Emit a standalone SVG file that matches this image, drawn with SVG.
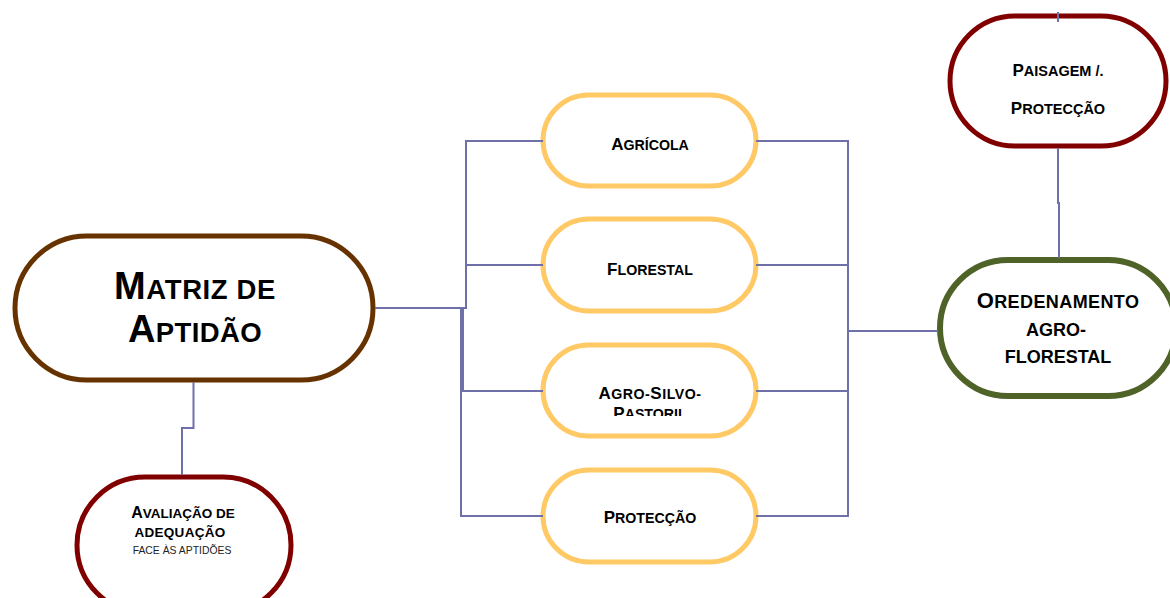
<svg xmlns="http://www.w3.org/2000/svg" width="1170" height="598" viewBox="0 0 1170 598">
  <style>
    .lbl { font-family: "Liberation Sans", Arial, sans-serif; font-weight: bold; fill: #000; text-anchor: middle; }
    .note { font-family: "Liberation Sans", Arial, sans-serif; fill: #222; text-anchor: middle; }
    .pill { fill: #fff; stroke-width: 5; }
    .brown { stroke: #663300; }
    .red { stroke: #800000; }
    .yellow { stroke: #FFC966; }
    .green { stroke: #4F6228; stroke-width: 6; }
    .wire { fill: none; stroke: #7070A8; stroke-width: 2; }
  </style>
  <defs>
    <clipPath id="clipAgroSilvo">
      <rect x="543" y="300" width="213" height="116"/>
    </clipPath>
  </defs>

  <rect width="1170" height="598" fill="#fff"/>

  <!-- nodes -->
  <g id="matriz">
    <rect class="pill brown" x="15" y="236" width="358" height="144" rx="72"/>
    <text class="lbl" x="195" y="299" letter-spacing="0.6"><tspan font-size="38">M</tspan><tspan font-size="27.5">ATRIZ DE</tspan></text>
    <text class="lbl" x="195" y="342" letter-spacing="0.4"><tspan font-size="38">A</tspan><tspan font-size="27.5">PTIDÃO</tspan></text>
  </g>

  <g id="avaliacao">
    <rect class="pill red" x="77" y="477" width="214" height="136" rx="68"/>
    <text class="lbl" x="183" y="518"><tspan font-size="16">A</tspan><tspan font-size="13.5">VALIAÇÃO DE</tspan></text>
    <text class="lbl" x="180" y="537" font-size="13.5" letter-spacing="0.3">ADEQUAÇÃO</text>
    <text class="note" x="182" y="554" font-size="10.4">FACE ÀS APTIDÕES</text>
  </g>

  <g id="agricola">
    <rect class="pill yellow" x="543" y="95" width="213" height="91" rx="45.5"/>
    <text class="lbl" x="650" y="150"><tspan font-size="17">A</tspan><tspan font-size="14.2">GRÍCOLA</tspan></text>
  </g>

  <g id="florestal">
    <rect class="pill yellow" x="543" y="219" width="213" height="92" rx="46"/>
    <text class="lbl" x="650" y="275"><tspan font-size="17">F</tspan><tspan font-size="14.2">LORESTAL</tspan></text>
  </g>

  <g id="agro-silvo-pastoril">
    <rect class="pill yellow" x="543" y="345" width="213" height="91" rx="45.5"/>
    <g clip-path="url(#clipAgroSilvo)">
      <text class="lbl" x="650" y="399" letter-spacing="0.5"><tspan font-size="17">A</tspan><tspan font-size="14.2">GRO-</tspan><tspan font-size="17">S</tspan><tspan font-size="14.2">ILVO-</tspan></text>
      <text class="lbl" x="650" y="419"><tspan font-size="17">P</tspan><tspan font-size="14.2">ASTORIL</tspan></text>
    </g>
  </g>

  <g id="proteccao">
    <rect class="pill yellow" x="543" y="470" width="213" height="92" rx="46"/>
    <text class="lbl" x="650" y="523"><tspan font-size="17">P</tspan><tspan font-size="14.2">ROTECÇÃO</tspan></text>
  </g>

  <g id="paisagem">
    <rect class="pill red" x="950" y="16" width="216" height="130" rx="65"/>
    <text class="lbl" x="1058" y="76"><tspan font-size="17">P</tspan><tspan font-size="14.5">AISAGEM /.</tspan></text>
    <text class="lbl" x="1058" y="114"><tspan font-size="17">P</tspan><tspan font-size="14.5">ROTECÇÃO</tspan></text>
  </g>

  <g id="ordenamento">
    <rect class="pill green" x="940" y="260" width="236" height="136" rx="68"/>
    <text class="lbl" x="1058" y="308" letter-spacing="0.4"><tspan font-size="22">O</tspan><tspan font-size="18">REDENAMENTO</tspan></text>
    <text class="lbl" x="1056" y="336" font-size="18">AGRO-</text>
    <text class="lbl" x="1058" y="363" font-size="18">FLORESTAL</text>
  </g>

  <!-- connectors -->
  <g id="connectors" class="wire">
    <path class="wire" d="M375,308 H466 V141 H543"/>
    <path class="wire" d="M466,265 H543"/>
    <path class="wire" d="M463,308 V391 H543"/>
    <path class="wire" d="M461,308 V516 H543"/>
    <path class="wire" d="M756,141 H848 V516 H756"/>
    <path class="wire" d="M756,265 H848"/>
    <path class="wire" d="M756,391 H848"/>
    <path class="wire" d="M848,331 H938"/>
    <path class="wire" d="M193.5,382 V428 H182 V475"/>
    <path class="wire" d="M1058,148 V203 H1059 V258"/>
    <path class="wire" d="M1058,12 V22"/>
  </g>
</svg>
